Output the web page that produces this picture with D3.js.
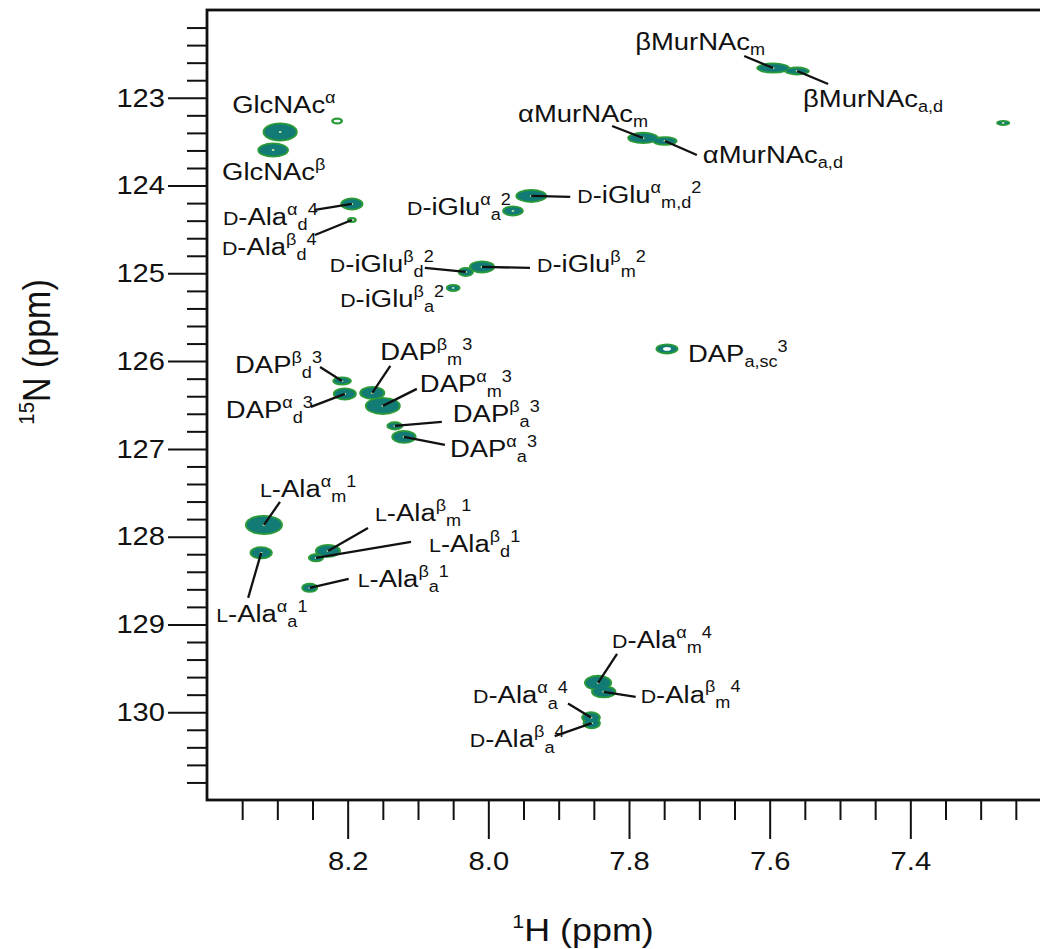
<!DOCTYPE html>
<html><head><meta charset="utf-8">
<script src="https://cdn.jsdelivr.net/npm/d3@7"></script>
<style>
body{margin:0;background:#fff}
svg{display:block}
text{font-family:"Liberation Sans",Arial,Helvetica,sans-serif;fill:#111}
</style>
</head><body>
<svg id="c" width="1040" height="949"></svg>
<script>
// ---------------- DATA ----------------
// peak positions (ppm)
const peakNames = ["GlcNAc (minor)","GlcNAc α","GlcNAc β","D-Ala α d4","D-Ala β d4","D-iGlu α m,d2","D-iGlu α a2",
  "D-iGlu β m2","D-iGlu β d2","D-iGlu β a2","βMurNAc m","βMurNAc a,d","αMurNAc m","αMurNAc a,d","unassigned",
  "DAP a,sc3","DAP β d3","DAP α d3","DAP β m3","DAP α m3","DAP β a3","DAP α a3",
  "L-Ala α m1","L-Ala α a1","L-Ala β m1","L-Ala β d1","L-Ala β a1",
  "D-Ala α m4","D-Ala β m4","D-Ala α a4","D-Ala β a4"];
const peakH = [8.215,8.296,8.306,8.194,8.194,7.939,7.965,
  8.009,8.032,8.050,7.595,7.561,7.780,7.749,7.268,
  7.746,8.208,8.204,8.165,8.150,8.133,8.120,
  8.319,8.323,8.228,8.245,8.254,
  7.844,7.836,7.854,7.853];
const peakN = [123.264,123.390,123.595,124.210,124.392,124.118,124.289,
  124.927,124.984,125.166,122.661,122.695,123.458,123.492,123.287,
  125.861,126.226,126.374,126.362,126.510,126.738,126.863,
  127.866,128.184,128.162,128.241,128.583,
  129.665,129.767,130.060,130.125];
// line widths (ppm)
const peakWidthH = [0.017,0.050,0.045,0.033,0.014,0.045,0.031,
  0.037,0.023,0.021,0.048,0.036,0.045,0.036,0.020,
  0.033,0.028,0.034,0.037,0.051,0.024,0.036,
  0.054,0.033,0.037,0.023,0.024,
  0.040,0.036,0.028,0.026];
const peakWidthN = [0.080,0.216,0.171,0.148,0.068,0.159,0.125,
  0.148,0.114,0.091,0.125,0.100,0.140,0.110,0.068,
  0.125,0.103,0.148,0.159,0.205,0.103,0.159,
  0.228,0.148,0.159,0.103,0.114,
  0.182,0.150,0.140,0.140];
const peakIntensity = ["weak","strong","strong","strong","weak","strong","strong",
  "strong","strong","strong","strong","strong","strong","strong","strong",
  "hollow","strong","strong","strong","strong","strong","strong",
  "strong","strong","strong","strong","strong",
  "strong","strong","strong","strong"];

// labels: markup ({X}=small caps, ^=superscript, _=subscript) and the peak each names
const labelTexts = ["GlcNAc^α","GlcNAc^β","{D}-Ala^α_d^4","{D}-Ala^β_d^4","{D}-iGlu^α_a^2","{D}-iGlu^α_{m,d}^2",
  "{D}-iGlu^β_d^2","{D}-iGlu^β_m^2","{D}-iGlu^β_a^2","βMurNAc_m","βMurNAc_{a,d}","αMurNAc_m","αMurNAc_{a,d}",
  "DAP_{a,sc}^3","DAP^β_d^3","DAP^α_d^3","DAP^β_m^3","DAP^α_m^3","DAP^β_a^3","DAP^α_a^3",
  "{L}-Ala^α_m^1","{L}-Ala^α_a^1","{L}-Ala^β_m^1","{L}-Ala^β_d^1","{L}-Ala^β_a^1",
  "{D}-Ala^α_m^4","{D}-Ala^β_m^4","{D}-Ala^α_a^4","{D}-Ala^β_a^4"];
const labelPeak = [1,2,3,4,6,5,8,7,9,10,11,12,13,15,16,17,18,19,20,21,22,23,24,25,26,27,28,29,30];

const xTickValues = [8.2,8.0,7.8,7.6,7.4];
const xTickLabels = ["8.2","8.0","7.8","7.6","7.4"];
const yTickValues = [123,124,125,126,127,128,129,130];
const yTickLabels = ["123","124","125","126","127","128","129","130"];
const xTitle = "^1H (ppm)";
const yTitle = "^{15}N (ppm)";

// ---------------- LAYOUT ----------------
// label placement: text offset and leader-line start offset (px, relative to peak)
const labelOffset = [[-48,-19],[-51,30],[-129,21],[-130,35],[-106,4],[46,7],
  [-136,0],[55,5],[-113,19],[-138,-18],[6,36],[-125,-16],[38,22],
  [21,13],[-107,-8],[-119,24],[8,-33],[37,-14],[58,-4],[46,20],
  [-4,-28],[-45,69],[47,-30],[113,-6],[48,-1],
  [14,-35],[37,11],[-118,-14],[-122,24]];
const leaderOffset = [null,null,[-37,6],[-37,15],null,[39,1],
  [-41,-4],[48,1],null,[-29,-12],[31,13],[-31,-12],[32,14],
  null,[-22,-14],[-34,13],[18,-27],[34,-17],[47,-4],[41,8],
  [16,-23],[-13,45],[40,-23],[95,-16],[39,-9],
  [19,-29],[32,5],[-23,-14],[-37,13]];

const SX = 1.12; // horizontal stretch of the typeface
const svg = d3.select("#c");
const x = d3.scaleLinear().domain([8.4,7.2]).range([207,1051]);
const y = d3.scaleLinear().domain([122,131]).range([10,800]);

// ---- rich text helper ----
function parse(m){
  const parts=[]; let buf=""; let i=0;
  const flush=()=>{ if(buf){parts.push({t:buf,k:"n"}); buf="";} };
  while(i<m.length){
    const c=m[i];
    if(c==="{"){ flush(); const j=m.indexOf("}",i); parts.push({t:m.slice(i+1,j),k:"sc"}); i=j+1; }
    else if(c==="^"||c==="_"){
      flush(); const k=c==="^"?"sup":"sub";
      if(m[i+1]==="{"){ const j=m.indexOf("}",i); parts.push({t:m.slice(i+2,j),k}); i=j+1; }
      else { parts.push({t:m[i+1],k}); i+=2; }
    } else { buf+=c; i++; }
  }
  flush(); return parts;
}
function rich(g, markup, transform, size, anchor, supRatio){
  const t=g.append("text").attr("transform",transform).style("font-size",size+"px")
    .attr("text-anchor",anchor||"start");
  let cur=0;
  parse(markup).forEach(p=>{
    let fs=size, target=0;
    if(p.k==="sup"){ fs=size*(supRatio||0.66); target=-size*0.42; }
    else if(p.k==="sub"){ fs=size*(supRatio||0.66); target=size*0.22; }
    else if(p.k==="sc"){ fs=size*0.78; }
    t.append("tspan").attr("dy",(target-cur).toFixed(2)).style("font-size",fs+"px").text(p.t);
    cur=target;
  });
  return t;
}

// ---- axes ----
const xMinor = d3.range(23).map(i=>+(8.35-i*0.05).toFixed(2)).filter(v=>!xTickValues.some(t=>Math.abs(t-v)<1e-6));
const yMinor = d3.range(44).map(i=>+(122.2+i*0.2).toFixed(1)).filter(v=>!yTickValues.some(t=>Math.abs(t-v)<1e-6));

function styleAxis(g){
  g.select(".domain").remove();
  g.selectAll(".tick line").attr("stroke","#111").attr("stroke-width",2);
}
svg.append("g").attr("transform","translate(0,800)")
  .call(d3.axisBottom(x).tickValues(xMinor).tickSize(20).tickFormat("")).call(styleAxis);
const gxM = svg.append("g").attr("transform","translate(0,800)")
  .call(d3.axisBottom(x).tickValues(xTickValues).tickSize(39).tickPadding(13)
    .tickFormat((d,i)=>xTickLabels[i])).call(styleAxis);
gxM.selectAll(".tick text").style("font-size","26px").attr("transform",`scale(${SX},1)`);

svg.append("g").attr("transform","translate(207,0)")
  .call(d3.axisLeft(y).tickValues(yMinor).tickSize(20).tickFormat("")).call(styleAxis);
const gyM = svg.append("g").attr("transform","translate(207,0)")
  .call(d3.axisLeft(y).tickValues(yTickValues).tickSize(39).tickPadding(3)
    .tickFormat((d,i)=>yTickLabels[i])).call(styleAxis);
gyM.selectAll(".tick text").style("font-size","26px")
  .attr("x",-42/SX).attr("transform",`scale(${SX},1)`);

// frame
svg.append("rect").attr("x",x(8.4)).attr("y",y(122)).attr("width",x(7.2)-x(8.4)).attr("height",y(131)-y(122))
  .attr("fill","none").attr("stroke","#111").attr("stroke-width",2.8);

// ---- peaks ----
const peaks = peakH.map((h,i)=>({h, n:peakN[i], wh:peakWidthH[i], wn:peakWidthN[i], lvl:peakIntensity[i], name:peakNames[i]}));
peaks.forEach(p=>{
  p.cx=x(p.h); p.cy=y(p.n);
  p.rx=Math.abs(x(p.h+p.wh/2)-x(p.h-p.wh/2))/2;
  p.ry=Math.abs(y(p.n+p.wn/2)-y(p.n-p.wn/2))/2;
});
const GREEN="#2b9b38", TEAL="#127b76";
const gP = svg.append("g");
// outer contour layer
gP.selectAll("ellipse.outer").data(peaks).join("ellipse").attr("class","outer")
  .attr("cx",d=>d.cx).attr("cy",d=>d.cy).attr("rx",d=>d.rx).attr("ry",d=>d.ry).attr("fill",GREEN);
// inner contour layer
gP.selectAll("ellipse.inner").data(peaks).join("ellipse").attr("class","inner")
  .attr("cx",d=>d.cx).attr("cy",d=>d.cy)
  .attr("rx",d=>Math.max(d.rx-(d.lvl==="weak"?2.6:2),0.5)).attr("ry",d=>Math.max(d.ry-(d.lvl==="weak"?2.2:1.8),0.5))
  .attr("fill",d=>d.lvl==="weak"?"#fff":TEAL);
// centre contours
gP.selectAll("ellipse.core").data(peaks.filter(d=>d.lvl!=="weak")).join("ellipse").attr("class","core")
  .attr("cx",d=>d.cx).attr("cy",d=>d.cy)
  .attr("rx",d=>d.lvl==="hollow"?4:1.4).attr("ry",d=>d.lvl==="hollow"?1.8:0.9)
  .attr("fill",d=>d.lvl==="hollow"?"#fff":"#cfe9a6");

// ---- labels ----
const gL = svg.append("g");
labelTexts.forEach((m,i)=>{
  const p=peaks[labelPeak[i]];
  const lo=leaderOffset[i];
  if(lo){
    gL.append("line").attr("x1",p.cx+lo[0]).attr("y1",p.cy+lo[1]).attr("x2",p.cx).attr("y2",p.cy)
      .attr("stroke","#111").attr("stroke-width",2.3);
  }
  const o=labelOffset[i];
  rich(gL, m, `translate(${p.cx+o[0]},${p.cy+o[1]}) scale(${SX},1)`, 24.5, "start");
});

// ---- axis titles ----
rich(svg, xTitle, `translate(583,941) scale(${SX},1)`, 32, "middle", 0.6);
rich(svg, yTitle, `translate(50,352) rotate(-90) scale(1,${SX})`, 34, "middle", 0.6);
</script>
</body></html>
